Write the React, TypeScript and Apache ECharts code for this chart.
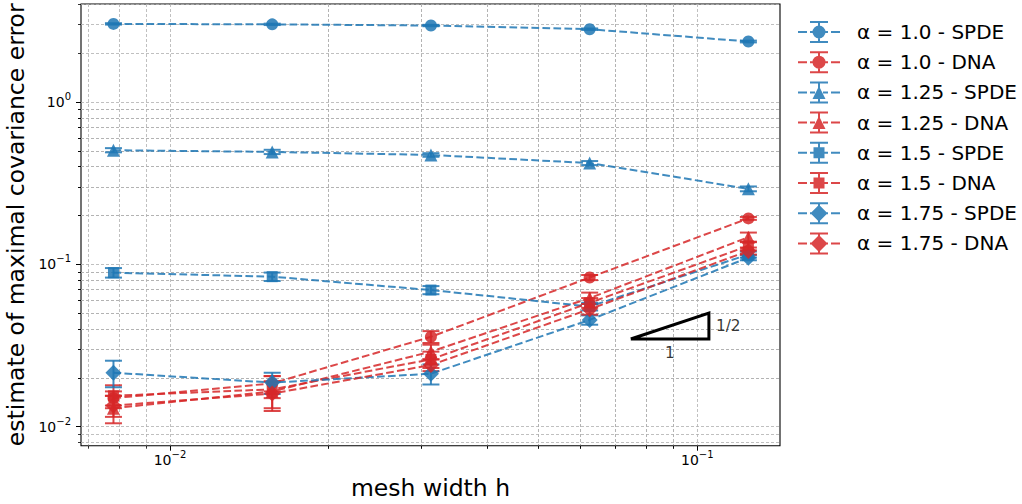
import React, { useEffect, useRef } from "react";
import * as echarts from "echarts";

// mesh widths h
const meshWidths = [0.0078125, 0.015625, 0.03125, 0.0625, 0.125];

// estimates and half-widths of error bars
const spde100 = [3.03, 3.01, 2.96, 2.81, 2.36];
const spde100Err = [0.03, 0.03, 0.03, 0.03, 0.03];
const dna100 = [0.015, 0.0185, 0.0358, 0.083, 0.192];
const dna100Err = [0.0015, 0.002, 0.003, 0.003, 0.004];
const spde125 = [0.505, 0.493, 0.472, 0.421, 0.292];
const spde125Err = [0.015, 0.015, 0.012, 0.012, 0.01];
const dna125 = [0.013, 0.0165, 0.029, 0.062, 0.147];
const dna125Err = [0.0025, 0.004, 0.003, 0.005, 0.01];
const spde150 = [0.0889, 0.084, 0.0695, 0.055, 0.115];
const spde150Err = [0.006, 0.005, 0.004, 0.003, 0.005];
const dna150 = [0.0155, 0.017, 0.026, 0.058, 0.13];
const dna150Err = [0.0025, 0.002, 0.003, 0.004, 0.008];
const spde175 = [0.0215, 0.0187, 0.0212, 0.0455, 0.11];
const spde175Err = [0.004, 0.0028, 0.003, 0.003, 0.004];
const dna175 = [0.0135, 0.016, 0.024, 0.053, 0.121];
const dna175Err = [0.002, 0.003, 0.002, 0.004, 0.006];

const seriesNames = [
  "α = 1.0 - SPDE",
  "α = 1.0 - DNA",
  "α = 1.25 - SPDE",
  "α = 1.25 - DNA",
  "α = 1.5 - SPDE",
  "α = 1.5 - DNA",
  "α = 1.75 - SPDE",
  "α = 1.75 - DNA",
];

// axis ranges and ticks
const xRange = [0.00678, 0.1435];
const yRange = [0.00764, 4.017];
const xMajorTicks = [0.01, 0.1];
const yMajorTicks = [0.01, 0.1, 1];
const minorMultipliers = [2, 3, 4, 5, 6, 7, 8, 9];

// slope triangle
const slopeTriangleX = [0.0748, 0.1052, 0.1052, 0.0748];
const slopeTriangleY = [0.0347, 0.0347, 0.0501, 0.0347];
const slopeLabelText = ["1", "1/2"];
const slopeLabelX = [0.0887, 0.1052];
const slopeLabelY = [0.0347, 0.0417];

const FONT = "DejaVu Sans";
const BLUE = "rgba(31,119,180,0.85)";
const RED = "rgba(214,39,40,0.85)";

const minorTicks = (majors: number[], range: number[]) => {
  const out: number[] = [];
  const decades = [...majors.map((m) => m / 10), ...majors];
  decades.forEach((d) =>
    minorMultipliers.forEach((m) => {
      const v = d * m;
      if (v >= range[0] && v <= range[1]) out.push(v);
    })
  );
  return out;
};

const lg = (v: number) => Math.log10(v);

// legend icon: dashed line + error bar + marker, in a 42 x 22 box (all sub-paths clockwise)
const rectP = (x: number, y: number, w: number, h: number) => `M${x} ${y}h${w}v${h}h${-w}Z`;
const iconBase =
  rectP(0, 10, 9, 2) +
  rectP(12, 10, 5, 2) +
  rectP(25, 10, 5, 2) +
  rectP(33, 10, 9, 2) +
  rectP(20, 0, 2, 22) +
  rectP(12, 0, 18, 2) +
  rectP(12, 20, 18, 2);
const markerPaths: Record<string, string> = {
  circle: "M14.5 11A6.5 6.5 0 1 1 27.5 11A6.5 6.5 0 1 1 14.5 11Z",
  triangle: "M21 4.5L27.5 17.5L14.5 17.5Z",
  rect: rectP(15.5, 5.5, 11, 11),
  diamond: "M21 2.5L29.5 11L21 19.5L12.5 11Z",
};

export default function App() {
  const ref = useRef<HTMLDivElement>(null);
  useEffect(() => {
    if (!ref.current) return;
    const chart = echarts.init(ref.current, null, { renderer: "svg" });

    const defs = [
      { v: spde100, e: spde100Err, c: BLUE, s: "circle", size: 12 },
      { v: dna100, e: dna100Err, c: RED, s: "circle", size: 12 },
      { v: spde125, e: spde125Err, c: BLUE, s: "triangle", size: 13 },
      { v: dna125, e: dna125Err, c: RED, s: "triangle", size: 13 },
      { v: spde150, e: spde150Err, c: BLUE, s: "rect", size: 11 },
      { v: dna150, e: dna150Err, c: RED, s: "rect", size: 11 },
      { v: spde175, e: spde175Err, c: BLUE, s: "diamond", size: 16 },
      { v: dna175, e: dna175Err, c: RED, s: "diamond", size: 16 },
    ];

    const series: any[] = [];
    defs.forEach((d, k) => {
      const color = d.c;
      series.push({
        type: "custom",
        name: seriesNames[k] + " err",
        xAxisIndex: 0,
        yAxisIndex: 0,
        encode: { x: 0, y: [1, 2] },
        data: meshWidths.map((h, i) => [h, d.v[i] - d.e[i], d.v[i] + d.e[i]]),
        renderItem: (params: any, api: any) => {
          const x = api.value(0);
          const top = api.coord([x, api.value(2)]);
          const bot = api.coord([x, api.value(1)]);
          const cw = 8.5;
          const style = { stroke: color, lineWidth: 2, fill: null };
          return {
            type: "group",
            children: [
              { type: "line", shape: { x1: top[0], y1: top[1], x2: bot[0], y2: bot[1] }, style },
              { type: "line", shape: { x1: top[0] - cw, y1: top[1], x2: top[0] + cw, y2: top[1] }, style },
              { type: "line", shape: { x1: bot[0] - cw, y1: bot[1], x2: bot[0] + cw, y2: bot[1] }, style },
            ],
          };
        },
      });
      series.push({
        type: "line",
        name: seriesNames[k],
        xAxisIndex: 0,
        yAxisIndex: 0,
        data: meshWidths.map((h, i) => [h, d.v[i]]),
        symbol: d.s,
        symbolSize: d.size,
        showAllSymbol: true,
        lineStyle: { color, width: 2, type: [7.7, 3.3] },
        itemStyle: { color, borderWidth: 0 },
      });
    });

    series.push({
      type: "line",
      name: "slope",
      xAxisIndex: 0,
      yAxisIndex: 0,
      data: slopeTriangleX.map((x, i) => [x, slopeTriangleY[i]]),
      symbol: "none",
      lineStyle: { color: "#000", width: 3, join: "miter" },
      z: 5,
    });
    series.push({
      type: "scatter",
      name: "slopeLabels",
      xAxisIndex: 0,
      yAxisIndex: 0,
      symbolSize: 0,
      data: slopeLabelText.map((t, i) => ({
        value: [slopeLabelX[i], slopeLabelY[i]],
        label: {
          show: true,
          formatter: t,
          position: i === 0 ? "bottom" : "right",
          distance: i === 0 ? 6 : 7,
          fontSize: 15.3,
          fontFamily: FONT,
          color: "#000",
        },
      })),
      z: 5,
    });

    const gridLine = { show: true, lineStyle: { color: "#b0b0b0", width: 0.8, type: [3, 2] } };
    const supRich = {
      b: { fontSize: 14, fontFamily: FONT, color: "#000" },
      s: { fontSize: 10, fontFamily: FONT, color: "#000", padding: [0, 0, 11, 0] },
    };
    const expFmt = (v: number) => {
      const e = Math.round(v);
      return `{b|10}{s|${e < 0 ? "\u2212" : ""}${Math.abs(e)}}`;
    };

    const xMinor = minorTicks(xMajorTicks, xRange).map(lg);
    const yMinor = minorTicks(yMajorTicks, yRange).map(lg);
    const hiddenLine = { show: false, onZero: false };

    chart.setOption({
      animation: false,
      grid: {
        left: 81,
        right: 242,
        top: 4,
        bottom: 58.3,
        show: true,
        containLabel: false,
        outerBoundsMode: "none",
        borderColor: "#000",
        borderWidth: 1.1,
        backgroundColor: "transparent",
      },
      legend: {
        data: seriesNames.map((n, k) => ({
          name: n,
          icon: "path://" + iconBase + markerPaths[defs[k].s],
        })),
        orient: "vertical",
        left: 798,
        top: 21,
        padding: 0,
        itemWidth: 42,
        itemHeight: 22,
        itemGap: 8.2,
        itemStyle: { borderWidth: 0 },
        textStyle: { fontSize: 20, fontFamily: FONT, color: "#000", padding: [0, 0, 0, 12], lineHeight: 20 },
      },
      xAxis: [
        { type: "log", logBase: 10, min: xRange[0], max: xRange[1], show: false, axisLine: hiddenLine },
        {
          type: "value",
          position: "bottom",
          min: lg(xRange[0]),
          max: lg(xRange[1]),
          axisLine: hiddenLine,
          axisTick: { show: true, length: 5, customValues: xMajorTicks.map(lg), lineStyle: { color: "#000", width: 1 } },
          axisLabel: { show: true, customValues: xMajorTicks.map(lg), formatter: expFmt, rich: supRich, margin: 4 },
          splitLine: gridLine,
          name: "mesh width h",
          nameLocation: "middle",
          nameGap: 30,
          nameTextStyle: { fontSize: 23.5, fontFamily: FONT, color: "#000" },
        },
        {
          type: "value",
          position: "bottom",
          min: lg(xRange[0]),
          max: lg(xRange[1]),
          axisLine: hiddenLine,
          axisTick: { show: true, length: 3, customValues: xMinor, lineStyle: { color: "#000", width: 0.8 } },
          axisLabel: { show: false },
          splitLine: gridLine,
        },
      ],
      yAxis: [
        { type: "log", logBase: 10, min: yRange[0], max: yRange[1], show: false, axisLine: hiddenLine },
        {
          type: "value",
          position: "left",
          min: lg(yRange[0]),
          max: lg(yRange[1]),
          axisLine: hiddenLine,
          axisTick: { show: true, length: 5, customValues: yMajorTicks.map(lg), lineStyle: { color: "#000", width: 1 } },
          axisLabel: { show: true, customValues: yMajorTicks.map(lg), formatter: expFmt, rich: supRich, margin: 10 },
          splitLine: gridLine,
          name: "estimate of maximal covariance error",
          nameLocation: "middle",
          nameGap: 46,
          nameTextStyle: { fontSize: 23.5, fontFamily: FONT, color: "#000" },
        },
        {
          type: "value",
          position: "left",
          min: lg(yRange[0]),
          max: lg(yRange[1]),
          axisLine: hiddenLine,
          axisTick: { show: true, length: 3, customValues: yMinor, lineStyle: { color: "#000", width: 0.8 } },
          axisLabel: { show: false },
          splitLine: gridLine,
        },
      ],
      series,
    });

    return () => chart.dispose();
  }, []);

  return (
    <div
      ref={ref}
      style={{ position: "absolute", left: 0, top: 0, width: 1022, height: 504, background: "#fff" }}
    />
  );
}
